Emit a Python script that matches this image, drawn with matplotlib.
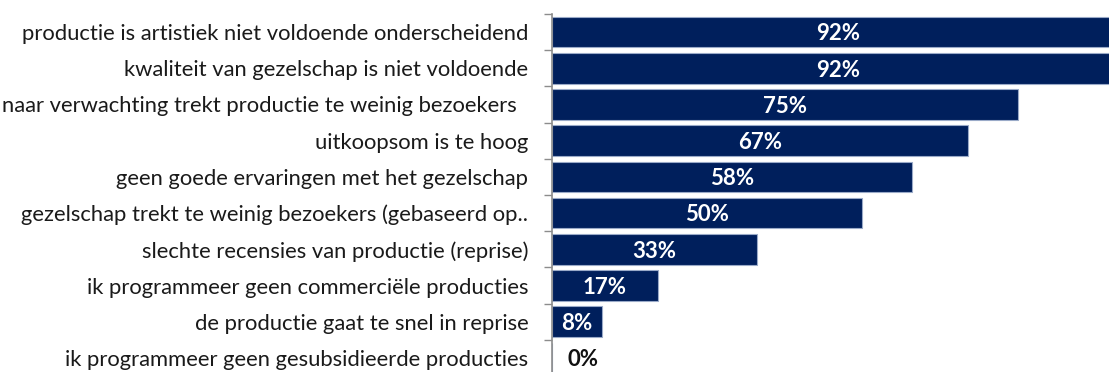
import matplotlib
matplotlib.use("Agg")
import matplotlib.pyplot as plt
import numpy as np

# Data (top to bottom as shown)
reasons = [
    "productie is artistiek niet voldoende onderscheidend",
    "kwaliteit van gezelschap is niet voldoende",
    "naar verwachting trekt productie te weinig bezoekers  ",
    "uitkoopsom is te hoog",
    "geen goede ervaringen met het gezelschap",
    "gezelschap trekt te weinig bezoekers (gebaseerd op..",
    "slechte recensies van productie (reprise)",
    "ik programmeer geen commerciële producties",
    "de productie gaat te snel in reprise",
    "ik programmeer geen gesubsidieerde producties",
]
percentages = [92, 92, 75, 67, 58, 50, 33, 17, 8, 0]

plt.rcParams["font.family"] = ["Lato", "DejaVu Sans"]

fig = plt.figure(figsize=(11.09, 3.72), dpi=100)
ax = fig.add_axes([552 / 1109, 1 - 376 / 372, 1 - 552 / 1109, (376 - 14) / 372])

y = np.arange(len(reasons))
bars = ax.barh(y, percentages, height=0.85, color="#001f5c",
               edgecolor="#9aaac8", linewidth=0.8)

ax.set_ylim(len(reasons) - 0.5, -0.5)
ax.set_xlim(0, 89.7)

ax.set_yticks(y)
ax.set_yticklabels(reasons, fontsize=15.8, color="#1a1a1a")
ax.tick_params(axis="y", which="major", length=0, pad=17)
ax.set_yticks(np.arange(-0.5, len(reasons), 1), minor=True)
ax.tick_params(axis="y", which="minor", length=6, width=1, color="#8c8c8c")
ax.set_xticks([])

for side in ["top", "right", "bottom"]:
    ax.spines[side].set_visible(False)
ax.spines["left"].set_color("#8c8c8c")
ax.spines["left"].set_linewidth(1.2)

# value labels
for yi, v in zip(y, percentages):
    if v > 0:
        ax.text(v / 2, yi + 0.05, f"{v}%", ha="center", va="center", color="white",
                fontsize=16, fontweight="bold")
    else:
        ax.text(v + 5, yi + 0.05, f"{v}%", ha="center", va="center", color="#111111",
                fontsize=16, fontweight="bold")

fig.savefig("out.png", dpi=100)
